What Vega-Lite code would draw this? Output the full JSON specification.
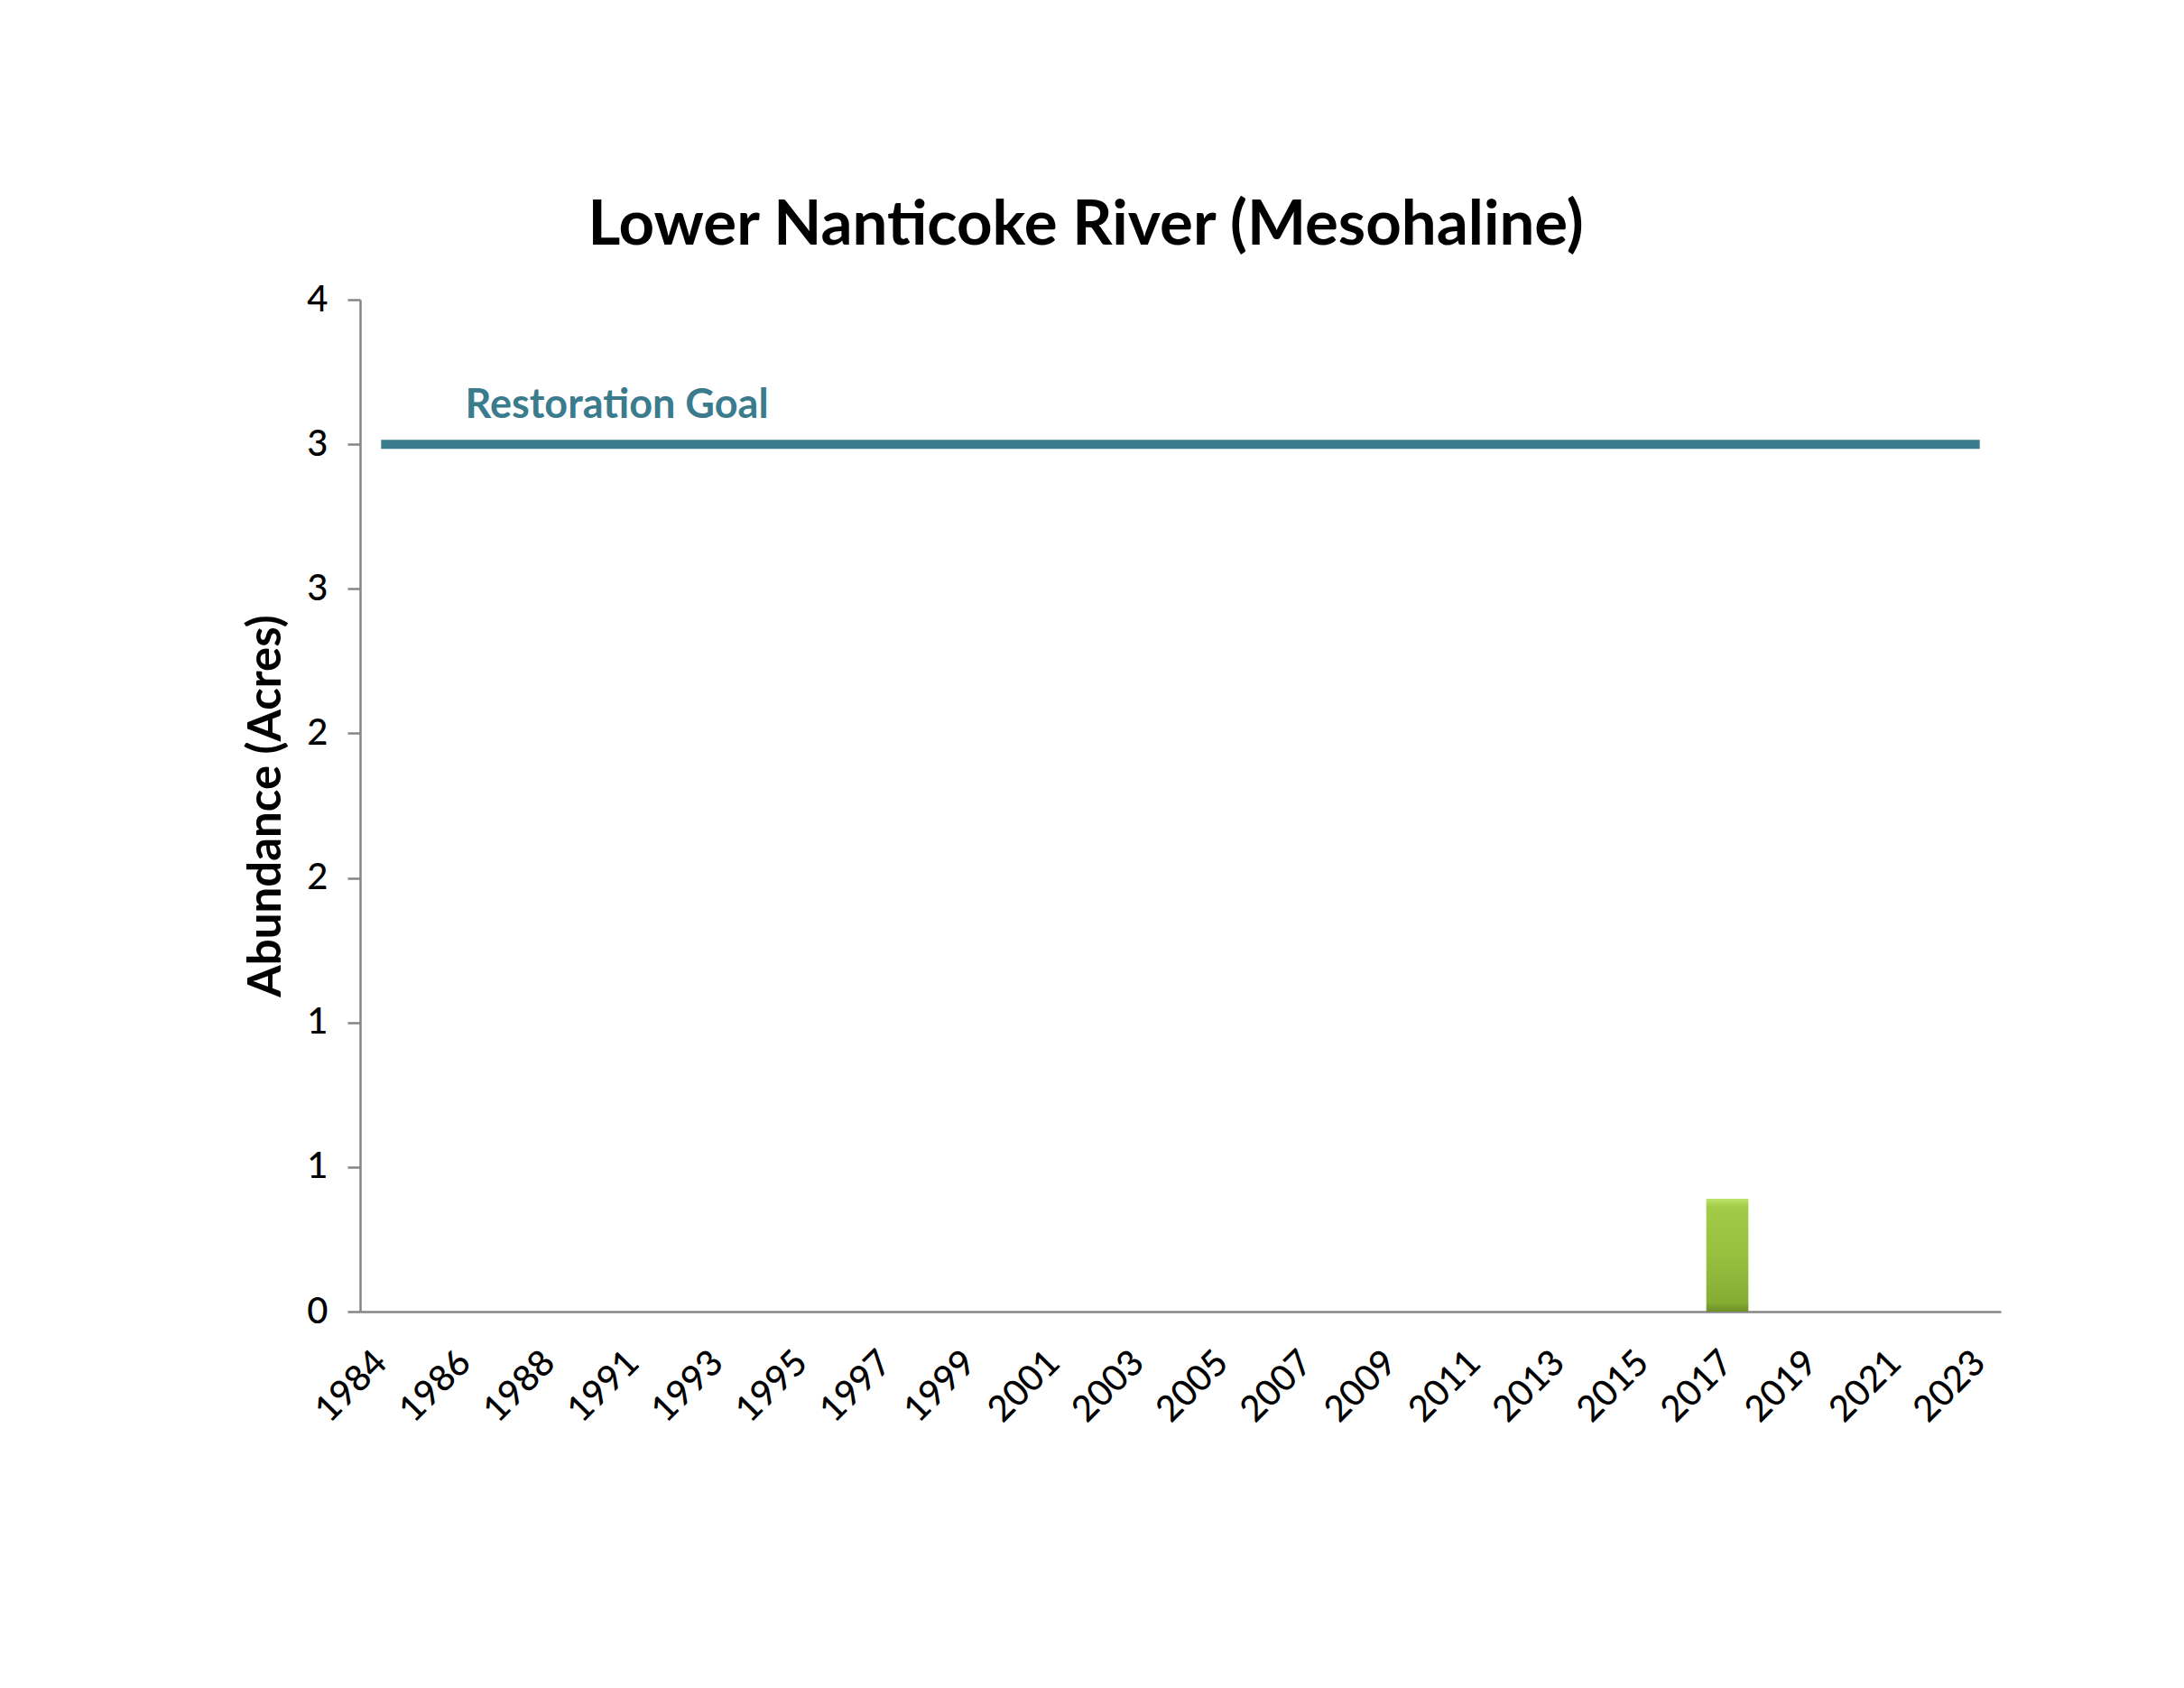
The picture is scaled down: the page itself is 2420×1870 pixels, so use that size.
{
  "$schema": "https://vega.github.io/schema/vega-lite/v6.json",
  "autosize": "none",
  "width": 1818,
  "height": 1121,
  "padding": {"left": 399, "top": 332, "right": 203, "bottom": 417},
  "background": "white",
  "config": {
    "font": "Lato",
    "view": {"stroke": null}
  },
  "title": {
    "text": "Lower Nanticoke River (Mesohaline)",
    "font": "Lato",
    "fontSize": 69,
    "fontWeight": "bold",
    "color": "black",
    "anchor": "middle",
    "frame": "group",
    "baseline": "alphabetic",
    "dx": -105,
    "offset": -28
  },
  "data": {
    "values": [
      {"year": "1984", "acres": 0, "goal": 3},
      {"year": "1985", "acres": 0, "goal": 3},
      {"year": "1986", "acres": 0, "goal": 3},
      {"year": "1987", "acres": 0, "goal": 3},
      {"year": "1988", "acres": 0, "goal": 3},
      {"year": "1989", "acres": 0, "goal": 3},
      {"year": "1991", "acres": 0, "goal": 3},
      {"year": "1992", "acres": 0, "goal": 3},
      {"year": "1993", "acres": 0, "goal": 3},
      {"year": "1994", "acres": 0, "goal": 3},
      {"year": "1995", "acres": 0, "goal": 3},
      {"year": "1996", "acres": 0, "goal": 3},
      {"year": "1997", "acres": 0, "goal": 3},
      {"year": "1998", "acres": 0, "goal": 3},
      {"year": "1999", "acres": 0, "goal": 3},
      {"year": "2000", "acres": 0, "goal": 3},
      {"year": "2001", "acres": 0, "goal": 3},
      {"year": "2002", "acres": 0, "goal": 3},
      {"year": "2003", "acres": 0, "goal": 3},
      {"year": "2004", "acres": 0, "goal": 3},
      {"year": "2005", "acres": 0, "goal": 3},
      {"year": "2006", "acres": 0, "goal": 3},
      {"year": "2007", "acres": 0, "goal": 3},
      {"year": "2008", "acres": 0, "goal": 3},
      {"year": "2009", "acres": 0, "goal": 3},
      {"year": "2010", "acres": 0, "goal": 3},
      {"year": "2011", "acres": 0, "goal": 3},
      {"year": "2012", "acres": 0, "goal": 3},
      {"year": "2013", "acres": 0, "goal": 3},
      {"year": "2014", "acres": 0, "goal": 3},
      {"year": "2015", "acres": 0, "goal": 3},
      {"year": "2016", "acres": 0, "goal": 3},
      {"year": "2017", "acres": 0.39, "goal": 3},
      {"year": "2018", "acres": 0, "goal": 3},
      {"year": "2019", "acres": 0, "goal": 3},
      {"year": "2020", "acres": 0, "goal": 3},
      {"year": "2021", "acres": 0, "goal": 3},
      {"year": "2022", "acres": 0, "goal": 3},
      {"year": "2023", "acres": 0, "goal": 3}
    ]
  },
  "encoding": {
    "x": {
      "field": "year",
      "type": "ordinal",
      "sort": null,
      "scale": {"paddingInner": 0, "paddingOuter": 0},
      "axis": {
        "title": null,
        "values": ["1984","1986","1988","1991","1993","1995","1997","1999","2001","2003","2005","2007","2009","2011","2013","2015","2017","2019","2021","2023"],
        "labelAngle": -45,
        "labelAlign": "right",
        "labelBaseline": "middle",
        "labelFont": "Lato",
        "labelFontSize": 40,
        "labelFontWeight": 500,
        "labelColor": "black",
        "labelPadding": 50,
        "ticks": false,
        "domainColor": "#868686",
        "domainWidth": 2.5,
        "grid": false
      }
    }
  },
  "layer": [
    {
      "mark": {
        "type": "bar",
        "color": {
          "gradient": "linear",
          "x1": 0, "y1": 0, "x2": 0, "y2": 1,
          "stops": [
            {"offset": 0, "color": "#bfe36a"},
            {"offset": 0.07, "color": "#a2cb48"},
            {"offset": 0.5, "color": "#97c03f"},
            {"offset": 0.92, "color": "#86ad34"},
            {"offset": 1, "color": "#6d8f27"}
          ]
        }
      },
      "encoding": {
        "y": {
          "field": "acres",
          "type": "quantitative",
          "scale": {"domain": [0, 3.5], "nice": false, "zero": true},
          "axis": {
            "title": "Abundance (Acres)",
            "titleFont": "Lato",
            "titleFontSize": 51,
            "titleFontWeight": "bold",
            "titleColor": "black",
            "titlePadding": 18,
            "values": [0, 0.5, 1, 1.5, 2, 2.5, 3, 3.5],
            "labelExpr": "toString(round(datum.value))",
            "labelFont": "Lato",
            "labelFontSize": 40,
            "labelFontWeight": 500,
            "labelColor": "black",
            "labelPadding": 22,
            "tickSize": 14,
            "tickColor": "#868686",
            "tickWidth": 2.5,
            "domainColor": "#868686",
            "domainWidth": 2.5,
            "grid": false
          }
        }
      }
    },
    {
      "mark": {"type": "line", "color": "#3a7b8d", "strokeWidth": 10, "strokeCap": "butt"},
      "encoding": {
        "y": {"field": "goal", "type": "quantitative"}
      }
    },
    {
      "data": {"values": [{"year": "1986", "goal": 3, "label": "Restoration Goal"}]},
      "mark": {
        "type": "text",
        "align": "left",
        "baseline": "alphabetic",
        "dy": -29,
        "font": "Lato",
        "fontSize": 45,
        "fontWeight": "bold",
        "color": "#3a7b8d"
      },
      "encoding": {
        "y": {"field": "goal", "type": "quantitative"},
        "text": {"field": "label"}
      }
    }
  ]
}
